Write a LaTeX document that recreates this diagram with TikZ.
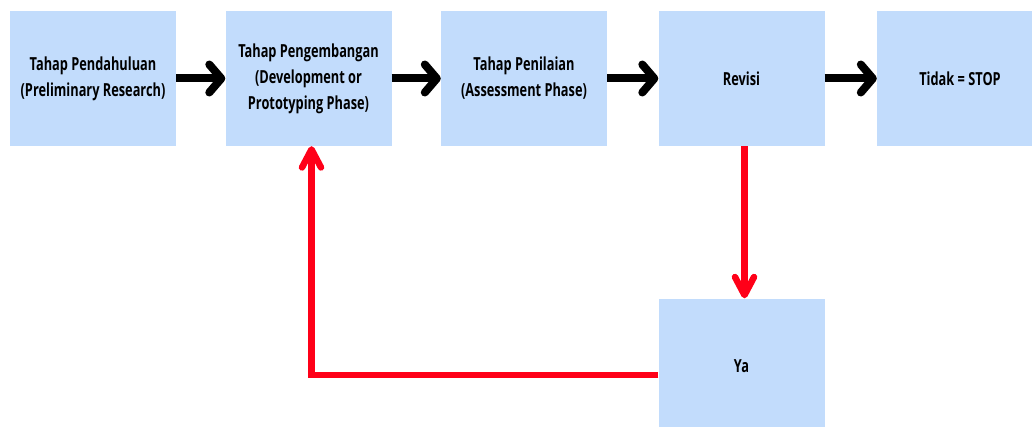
\documentclass[tikz,border=0pt]{standalone}
\usepackage{fontspec}
\setmainfont{Open Sans}[FakeStretch=0.71]
\usetikzlibrary{arrows.meta}
\definecolor{boxblue}{RGB}{194,220,252}
\definecolor{backred}{RGB}{255,0,24}
\begin{document}
\begin{tikzpicture}[x=1pt, y=-1pt, font=\bfseries\fontsize{18}{26}\selectfont, line join=round,
		fase/.style={fill=boxblue, minimum width=166pt, minimum height=135pt, align=center, inner sep=0pt},
		maju/.style={line width=8pt, -{Straight Barb[round, length=12pt, width=28pt]}},
		balik/.style={line width=6.5pt, draw=backred, line join=miter, -{Straight Barb[round, length=18pt, width=19pt]}}]
			\clip (0,0) rectangle (1032,427);
			\node[fase] (pendahuluan) at (93,78.5) {Tahap Pendahuluan\\(Preliminary Research)};
			\node[fase] (pengembangan) at (308.5,78.5) {Tahap Pengembangan\\(Development or\\Prototyping Phase)};
			\node[fase] (penilaian) at (524,78.5) {Tahap Penilaian\\(Assessment Phase)};
			\node[fase] (revisi) at (741.5,78.5) {Revisi};
			\node[fase] (tidak) at (960,78.5) {Tidak = STOP};
			\node[fase] (ya) at (741.5,366) {Ya};
			\draw[maju] (pendahuluan) -- (pengembangan);
			\draw[maju] (pengembangan) -- (penilaian);
			\draw[maju] (penilaian) -- (revisi);
			\draw[maju] (revisi) -- (tidak);
			\draw[balik] ([xshift=3pt]revisi.south) -- ([xshift=3pt]ya.north);
			\draw[balik] ([yshift=-9pt]ya.west) -| ([xshift=3pt]pengembangan.south);
		\end{tikzpicture}
\end{document}
